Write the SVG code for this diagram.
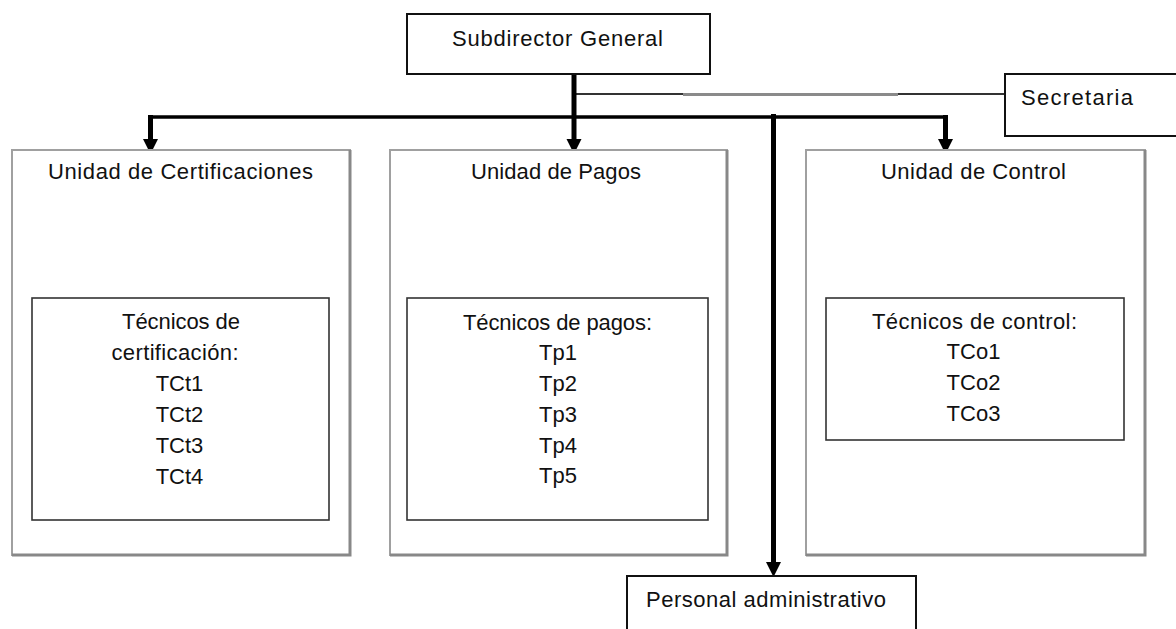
<svg xmlns="http://www.w3.org/2000/svg" width="1176" height="629" viewBox="0 0 1176 629">
  <style>
    text { font-family: "Liberation Sans", Arial, sans-serif; font-size: 22px; fill: #111; }
    .c { text-anchor: middle; }
    .box { fill: #fff; stroke: #111; stroke-width: 2; }
    .inner { fill: none; stroke: #333; stroke-width: 1.6; }
    .unit { fill: #fff; stroke: #a0a0a0; stroke-width: 2; }
    .shade { fill: none; stroke: #888; stroke-width: 3; }
    .thick { fill: none; stroke: #000; stroke-width: 5; }
    .bar { fill: none; stroke: #000; stroke-width: 3.5; }
    .head { fill: #000; stroke: none; }
  </style>
  <rect width="1176" height="629" fill="#fff"/>

  <!-- connectors -->
  <g id="connectors">
    <line x1="576" y1="94" x2="683" y2="94" stroke="#333" stroke-width="1.8"/>
    <line x1="683" y1="94.5" x2="898" y2="94.5" stroke="#8a8a8a" stroke-width="3"/>
    <line x1="898" y1="94" x2="1005" y2="94" stroke="#333" stroke-width="2"/>
    <path class="bar" d="M150.5,117 H946"/>
    <path class="thick" d="M150.5,115 V142"/>
    <polygon class="head" points="143,139 158,139 150.5,154"/>
    <path class="thick" d="M945.5,115 V142"/>
    <polygon class="head" points="938,139 953,139 945.5,154"/>
    <path class="thick" d="M574,74 V142"/>
    <polygon class="head" points="566.5,139 581.5,139 574,154"/>
    <path class="thick" d="M773.5,114 V565"/>
    <polygon class="head" points="766,562 781,562 773.5,577"/>
  </g>

  <!-- top level -->
  <g id="subdirector">
    <rect class="box" x="407" y="14" width="303" height="60"/>
    <text class="c" x="557.5" y="46" textLength="211" lengthAdjust="spacing">Subdirector General</text>
  </g>

  <g id="secretaria">
    <rect class="box" x="1005" y="74" width="180" height="62"/>
    <text x="1021" y="105" textLength="112" lengthAdjust="spacing">Secretaria</text>
  </g>

  <!-- units -->
  <g id="unidad-certificaciones">
    <rect class="unit" x="12" y="150" width="338" height="405"/>
    <path class="shade" d="M350,150 V555 H12"/>
    <text class="c" x="180.5" y="179" textLength="265" lengthAdjust="spacing">Unidad de Certificaciones</text>
    <rect class="inner" x="32" y="298" width="297" height="222"/>
    <text class="c" x="181" y="329" textLength="118" lengthAdjust="spacing">Técnicos de</text>
    <text class="c" x="175" y="360" textLength="127" lengthAdjust="spacing">certificación:</text>
    <text class="c" x="179.5" y="391">TCt1</text>
    <text class="c" x="179.5" y="422">TCt2</text>
    <text class="c" x="179.5" y="453">TCt3</text>
    <text class="c" x="179.5" y="484">TCt4</text>
  </g>

  <g id="unidad-pagos">
    <rect class="unit" x="390" y="150" width="337" height="405"/>
    <path class="shade" d="M727,150 V555 H390"/>
    <text class="c" x="556" y="179" textLength="170" lengthAdjust="spacing">Unidad de Pagos</text>
    <rect class="inner" x="407" y="298" width="301" height="222"/>
    <text class="c" x="557.5" y="330" textLength="189" lengthAdjust="spacing">Técnicos de pagos:</text>
    <text class="c" x="558" y="360">Tp1</text>
    <text class="c" x="558" y="391">Tp2</text>
    <text class="c" x="558" y="422">Tp3</text>
    <text class="c" x="558" y="453">Tp4</text>
    <text class="c" x="558" y="483">Tp5</text>
  </g>

  <g id="unidad-control">
    <rect class="unit" x="806" y="150" width="339" height="405"/>
    <path class="shade" d="M1145,150 V555 H806"/>
    <text class="c" x="973.5" y="179" textLength="185" lengthAdjust="spacing">Unidad de Control</text>
    <rect class="inner" x="826" y="298" width="298" height="142"/>
    <text class="c" x="974.5" y="329" textLength="205" lengthAdjust="spacing">Técnicos de control:</text>
    <text class="c" x="973.5" y="359">TCo1</text>
    <text class="c" x="973.5" y="390">TCo2</text>
    <text class="c" x="973.5" y="421">TCo3</text>
  </g>

  <g id="personal-administrativo">
    <rect class="box" x="627" y="576" width="289" height="70"/>
    <text x="646" y="607" textLength="240" lengthAdjust="spacing">Personal administrativo</text>
  </g>
</svg>
